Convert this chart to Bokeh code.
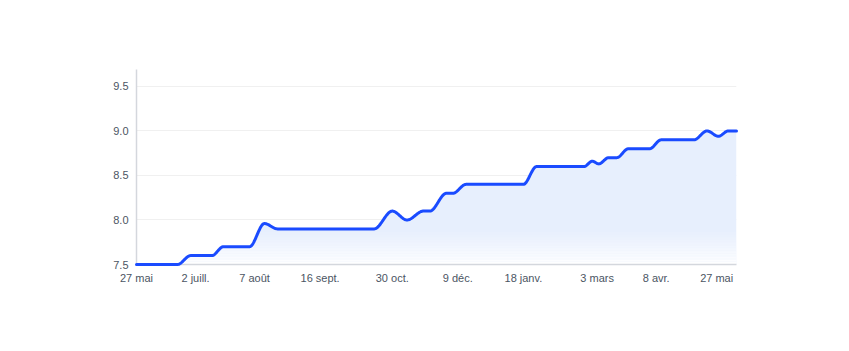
import numpy as np
import pandas as pd
from bokeh.plotting import figure
from bokeh.models import (ColumnDataSource, FixedTicker, PrintfTickFormatter,
                          Range1d)
from bokeh.embed import file_html
from bokeh.resources import INLINE

# ---- data ----
dates = ["2023-05-27", "2023-06-21", "2023-06-29", "2023-07-12", "2023-07-19",
         "2023-08-04", "2023-08-13", "2023-08-21", "2023-10-19", "2023-10-30",
         "2023-11-08", "2023-11-18", "2023-11-22", "2023-12-02", "2023-12-06",
         "2023-12-14", "2024-01-18", "2024-01-26", "2024-02-24", "2024-02-29",
         "2024-03-04", "2024-03-10", "2024-03-15", "2024-03-22", "2024-04-04",
         "2024-04-11", "2024-05-01", "2024-05-09", "2024-05-16", "2024-05-22",
         "2024-05-27"]
values = [7.5, 7.5, 7.6, 7.6, 7.7,
          7.7, 7.96, 7.9, 7.9, 8.1,
          8.0, 8.1, 8.1, 8.3, 8.3,
          8.4, 8.4, 8.6, 8.6, 8.66,
          8.63, 8.7, 8.7, 8.8, 8.8,
          8.9, 8.9, 9.0, 8.94, 9.0,
          9.0]

tick_dates = ["2023-05-27", "2023-07-02", "2023-08-07", "2023-09-16", "2023-10-30",
              "2023-12-09", "2024-01-18", "2024-03-03", "2024-04-08", "2024-05-27"]
tick_labels = ["27 mai", "2 juill.", "7 août", "16 sept.", "30 oct.",
               "9 déc.", "18 janv.", "3 mars", "8 avr.", "27 mai"]
y_ticks = [7.5, 8.0, 8.5, 9.0, 9.5]

# ---- monotone cubic curve (like d3.curveMonotoneX) for rendering ----
t = pd.to_datetime(dates)
xd = np.array([(d - t[0]).days for d in t], dtype=float)
yv = np.array(values, dtype=float)
n = len(xd)
h = np.diff(xd)
s = np.diff(yv) / h
m = np.zeros(n)
for i in range(1, n - 1):
    s0, s1 = s[i - 1], s[i]
    p_ = (s0 * h[i] + s1 * h[i - 1]) / (h[i - 1] + h[i])
    m[i] = (np.sign(s0) + np.sign(s1)) * min(abs(s0), abs(s1), 0.5 * abs(p_))
m[0] = (3 * s[0] - m[1]) / 2
m[-1] = (3 * s[-1] - m[-2]) / 2
cx, cy = [], []
for i in range(n - 1):
    u = np.linspace(0, 1, 30, endpoint=(i == n - 2))
    h00 = 2 * u**3 - 3 * u**2 + 1
    h10 = u**3 - 2 * u**2 + u
    h01 = -2 * u**3 + 3 * u**2
    h11 = u**3 - u**2
    cx.extend(xd[i] + u * h[i])
    cy.extend(h00 * yv[i] + h10 * h[i] * m[i] + h01 * yv[i + 1] + h11 * h[i] * m[i + 1])
cx = np.array(cx)
cy = np.array(cy)
cdt = t[0] + pd.to_timedelta(cx, unit="D")

src = ColumnDataSource(dict(x=cdt, y=cy, base=np.full(len(cy), y_ticks[0])))

x0 = pd.Timestamp(tick_dates[0])
x1 = pd.Timestamp(tick_dates[-1])
ymin, ymax = 7.5, 9.69

p = figure(width=849, height=351, x_axis_type="datetime",
           x_range=Range1d(x0, x1), y_range=Range1d(ymin, ymax),
           output_backend="svg", toolbar_location=None,
           min_border_left=136, min_border_right=113,
           min_border_top=69, min_border_bottom=87)
p.outline_line_color = None
p.background_fill_color = "white"
p.border_fill_color = "white"

# area with fading gradient
p.varea(x="x", y1="base", y2="y", source=src, fill_color="#e7effd")
nb = 24
edges = np.linspace(7.5, 7.92, nb + 1)
alphas = [(1 - (i + 0.5) / nb) ** 1.3 for i in range(nb)]
p.quad(left=[x0] * nb, right=[x1] * nb, bottom=edges[:-1], top=edges[1:],
       fill_color="white", fill_alpha=alphas, line_color=None)

p.line(x="x", y="y", source=src, line_color="#1a4bff", line_width=3,
       line_join="round", line_cap="round", level="overlay")

# axes
font = "Liberation Sans"
lab_col = "#4b5563"
p.xgrid.grid_line_color = None
p.ygrid.grid_line_color = "#f0f0f0"
p.ygrid.grid_line_width = 1
p.yaxis.ticker = FixedTicker(ticks=y_ticks)
p.yaxis.formatter = PrintfTickFormatter(format="%.1f")
p.yaxis.major_tick_line_color = None
p.yaxis.minor_tick_line_color = None
p.yaxis.major_tick_out = 0
p.yaxis.axis_line_color = "#d4d7dd"
p.yaxis.axis_line_width = 1.5
p.yaxis.major_label_text_font = font
p.yaxis.major_label_text_font_size = "11px"
p.yaxis.major_label_text_color = lab_col
p.yaxis.major_label_standoff = 8

# x tick labels: the last one is kept inside the plot (right-aligned look)
tick_ms = [float(pd.Timestamp(d).value // 10**6) for d in tick_dates]
overrides = {ms: lab for ms, lab in zip(tick_ms, tick_labels)}
overrides[tick_ms[-1]] = tick_labels[-1] + "\u00a0" * 13
p.xaxis.ticker = FixedTicker(ticks=tick_ms)
p.xaxis.major_label_overrides = overrides
p.xaxis.major_tick_line_color = None
p.xaxis.minor_tick_line_color = None
p.xaxis.major_tick_out = 0
p.xaxis.major_label_standoff = 7
p.xaxis.axis_line_color = "#d4d7dd"
p.xaxis.axis_line_width = 1.5
p.xaxis.major_label_text_font = font
p.xaxis.major_label_text_font_size = "11px"
p.xaxis.major_label_text_color = lab_col

open("out.html", "w").write(file_html(p, INLINE))
